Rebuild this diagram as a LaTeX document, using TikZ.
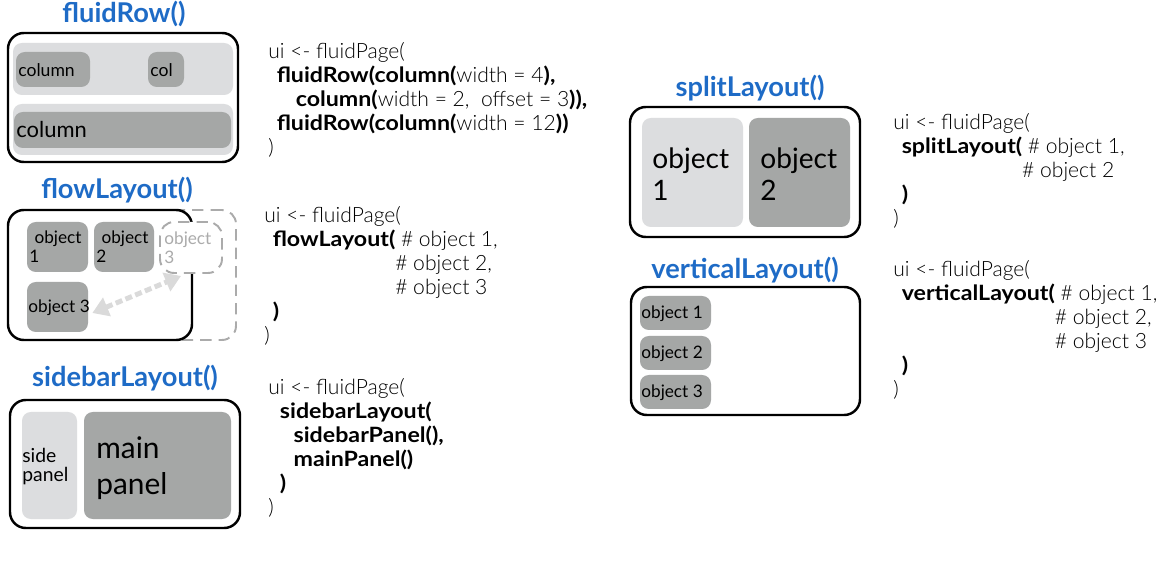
\documentclass[tikz,border=0pt]{standalone}
\usepackage{fontspec}
\setmainfont{Lato}
\newfontfamily\lightfont{Lato Light}
\newfontfamily\kwfont{Lato}[FakeStretch=1.1]
\usepackage{tikz}
\usetikzlibrary{arrows.meta,fit}
\definecolor{titleblue}{HTML}{1E6BC6}
\definecolor{lightg}{HTML}{DCDDDF}
\definecolor{darkg}{HTML}{A5A7A6}
\definecolor{ghostg}{HTML}{ABABAB}
\definecolor{arrowg}{HTML}{DADADA}
\newcommand{\kw}[1]{{\kwfont\bfseries #1}}
\tikzset{
  title/.style={font=\bfseries\fontsize{15.5}{18}\selectfont, text=titleblue},
  frame/.style={draw=black, line width=1.4pt, rounded corners=9pt, fill=white, inner sep=0pt},
  lightbox/.style={fill=lightg, rounded corners=5pt, inner sep=0pt},
  darkbox/.style={fill=darkg, rounded corners=5pt, inner sep=0pt},
  ghost/.style={draw=ghostg, line width=1.1pt, dash pattern=on 6.5pt off 4pt, rounded corners=8pt, fill=white, inner sep=0pt},
  flowarrow/.style={draw=arrowg, line width=2.8pt, dash pattern=on 4pt off 2pt, {Triangle[length=9pt,width=11pt,fill=arrowg]}-{Triangle[length=9pt,width=11pt,fill=arrowg]}},
  code/.style={anchor=north west, align=left, inner sep=0pt, font=\lightfont\fontsize{12}{13.7}\selectfont},
  lbl/.style={anchor=west, inner sep=0pt, align=left},
}
\begin{document}
\begin{tikzpicture}[x=0.02cm, y=-0.02cm]
\useasboundingbox (0,0) rectangle (1174,574);
% fluidRow
\node[title] (tFluid) at (124,14) {fluidRow()};
\node[frame, fit={(8,33) (238,162)}] (fluidFrame) {};
\node[lightbox, fit={(13,43) (233,95)}] (rowA) {};
\node[darkbox, fit={(16,52) (90,87)}] (colA) {};
\node[darkbox, fit={(148,52) (184,87)}] (colB) {};
\node[lightbox, fit={(13,104) (233,155)}] (rowB) {};
\node[darkbox, fit={(14,112) (231,148)}] (colC) {};
\node[lbl, font=\fontsize{10}{12}\selectfont] (colAtxt) at (18,70) {column};
\node[lbl, font=\fontsize{10}{12}\selectfont] (colBtxt) at (150,70) {col};
\node[lbl, font=\fontsize{12.5}{14}\selectfont] (colCtxt) at (16,130) {column};
\node[code] (fluidCode) at (268,42) {ui <- fluidPage(\\
\hspace*{0.4em}\kw{fluidRow(column(}width = 4\kw{),}\\
\hspace*{1.3em}\kw{column(}width = 2,\ \ offset = 3\kw{)),}\\
\hspace*{0.4em}\kw{fluidRow(column(}width = 12\kw{))}\\
)};
% flowLayout
\node[title] (tFlow) at (117,190) {flowLayout()};
\node[ghost, fit={(150,210) (236,340)}] (flowGhostFrame) {};
\node[frame, fit={(8,210) (192,340)}] (flowFrame) {};
\node[ghost, fit={(160,222) (222,273)}] (ghost) {};
\node[darkbox, fit={(27,222) (88,272)}] (obj1) {};
\node[darkbox, fit={(94,222) (154,272)}] (obj2) {};
\node[darkbox, fit={(27,282) (88,332)}] (obj3) {};
\node[lbl, font=\fontsize{9.8}{10.8}\selectfont] (obj1txt) at (29,247) {\hspace*{0.3em}object\\1};
\node[lbl, font=\fontsize{9.8}{10.8}\selectfont] (obj2txt) at (96,247) {\hspace*{0.3em}object\\2};
\node[lbl, font=\fontsize{9.8}{10.8}\selectfont] (obj3txt) at (28,308) {object 3};
\node[lbl, font=\fontsize{9.8}{10.8}\selectfont, text=ghostg] (ghosttxt) at (164,248) {object\\3};
\draw[flowarrow] ([shift={(4,6)}]obj3.east) -- ([shift={(-10,2)}]ghost.south);
\node[code] (flowCode) at (264,206) {ui <- fluidPage(\\
\hspace*{0.4em}\kw{flowLayout(} \# object 1,\\
\hspace*{0.4em}\phantom{\kw{flowLayout(}}\# object 2,\\
\hspace*{0.4em}\phantom{\kw{flowLayout(}}\# object 3\\
\hspace*{0.4em}\kw{)}\\
)};
% sidebarLayout
\node[title] (tSidebar) at (125,378) {sidebarLayout()};
\node[frame, fit={(10,400) (240,528)}] (sideFrame) {};
\node[lightbox, fit={(22,412) (77,519)}] (sidePanel) {};
\node[darkbox, fit={(84,412) (231,519)}] (mainPanel) {};
\node[lbl, font=\fontsize{11}{10.8}\selectfont] (sidetxt) at (22,467) {side\\panel};
\node[lbl, font=\fontsize{17}{20.5}\selectfont] (maintxt) at (96,468) {main\\panel};
\node[code] (sideCode) at (268,378) {ui <- fluidPage(\\
\hspace*{0.55em}\kw{sidebarLayout(}\\
\hspace*{1.2em}\kw{sidebarPanel(),}\\
\hspace*{1.2em}\kw{mainPanel()}\\
\hspace*{0.55em}\kw{)}\\
)};
% splitLayout
\node[title] (tSplit) at (750,88) {splitLayout()};
\node[frame, fit={(630,107) (860,237)}] (splitFrame) {};
\node[lightbox, fit={(642,118) (743,227)}] (split1) {};
\node[darkbox, fit={(749,118) (850,227)}] (split2) {};
\node[lbl, font=\fontsize{16}{18.2}\selectfont] (split1txt) at (652,174) {object\\1};
\node[lbl, font=\fontsize{16}{18.2}\selectfont] (split2txt) at (760,174) {object\\2};
\node[code] (splitCode) at (893,113) {ui <- fluidPage(\\
\hspace*{0.4em}\kw{splitLayout(} \# object 1,\\
\hspace*{0.4em}\phantom{\kw{splitLayout(}}\# object 2\\
\hspace*{0.4em}\kw{)}\\
)};
% verticalLayout
\node[title] (tVertical) at (745,270) {verticalLayout()};
\node[frame, fit={(631,287) (860,415)}] (vertFrame) {};
\foreach \i/\y in {1/296, 2/336, 3/375} {
  \node[darkbox, fit={(640,\y) (711,\y+34)}] (vert\i) {};
  \node[lbl, font=\fontsize{9.8}{11}\selectfont] (vert\i txt) at (641,\y+18) {object \i};
}
\node[code] (vertCode) at (893,260) {ui <- fluidPage(\\
\hspace*{0.4em}\kw{verticalLayout(} \# object 1,\\
\hspace*{0.4em}\phantom{\kw{verticalLayout(}}\# object 2,\\
\hspace*{0.4em}\phantom{\kw{verticalLayout(}}\# object 3\\
\hspace*{0.4em}\kw{)}\\
)};
\end{tikzpicture}
\end{document}
